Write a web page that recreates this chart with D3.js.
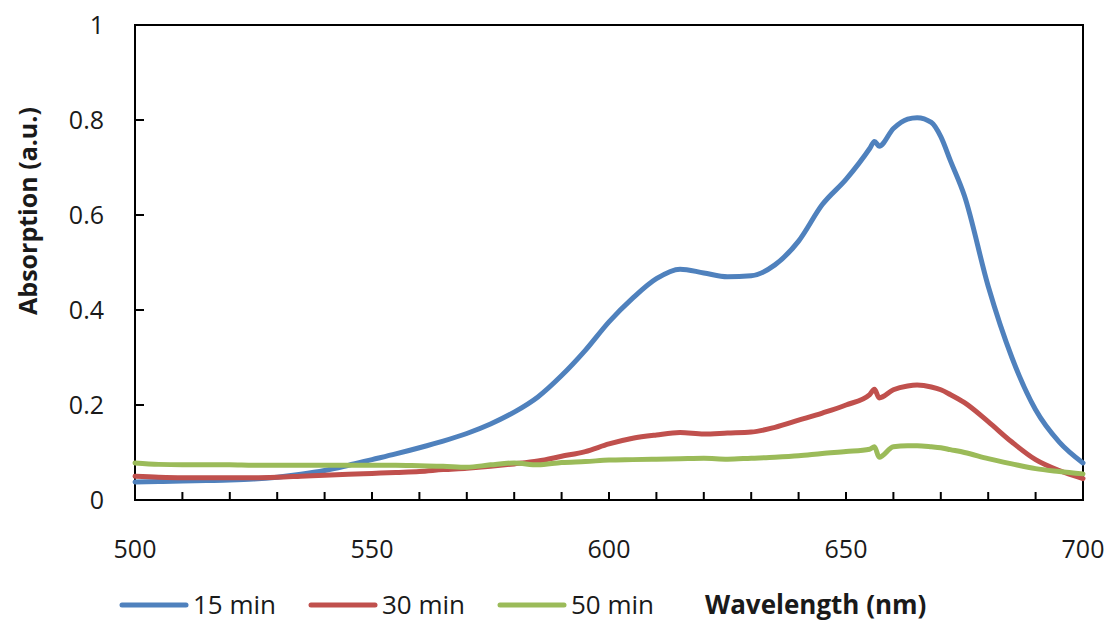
<!DOCTYPE html>
<html>
<head>
<meta charset="utf-8">
<script src="https://cdn.jsdelivr.net/npm/d3@7"></script>
<style>
  html, body { margin: 0; padding: 0; background: #fff; }
  svg { display: block; }
  text { font-family: "Open Sans", sans-serif; fill: #1a1a1a; }
</style>
</head>
<body>
<svg id="chart" width="1111" height="623"></svg>
<script>
const wavelengths = [500,505,510,515,520,525,530,535,540,545,550,555,560,565,570,575,580,585,590,595,600,605,610,615,620,625,630,635,640,645,650,655,656,657,660,663,665,668,670,672,675,680,685,690,695,700];

const min15 = [0.038,0.039,0.040,0.041,0.042,0.044,0.048,0.054,0.062,0.073,0.085,0.097,0.110,0.124,0.140,0.160,0.185,0.217,0.262,0.315,0.375,0.425,0.466,0.486,0.478,0.470,0.472,0.495,0.545,0.622,0.675,0.740,0.755,0.745,0.782,0.802,0.805,0.795,0.765,0.715,0.640,0.450,0.300,0.190,0.122,0.078];

const min30 = [0.050,0.048,0.047,0.047,0.047,0.047,0.048,0.050,0.052,0.054,0.056,0.058,0.060,0.064,0.067,0.071,0.076,0.082,0.092,0.102,0.118,0.130,0.137,0.142,0.139,0.141,0.143,0.153,0.168,0.183,0.200,0.222,0.233,0.215,0.232,0.240,0.242,0.238,0.232,0.222,0.205,0.165,0.122,0.085,0.062,0.045];

const min50 = [0.078,0.075,0.074,0.074,0.074,0.073,0.073,0.073,0.073,0.073,0.073,0.073,0.072,0.071,0.069,0.074,0.078,0.074,0.079,0.081,0.084,0.085,0.086,0.087,0.088,0.086,0.088,0.090,0.093,0.098,0.102,0.107,0.112,0.090,0.112,0.114,0.114,0.112,0.110,0.106,0.100,0.087,0.076,0.066,0.060,0.055];

const seriesNames = ["15 min", "30 min", "50 min"];
const seriesColors = ["#4F81BD", "#C0504D", "#9BBB59"];
const xTickLabels = [500, 550, 600, 650, 700];
const yTickLabels = [0, 0.2, 0.4, 0.6, 0.8, 1];

const svg = d3.select("#chart");
const L = 135, R = 1083, T = 25, B = 500;

const x = d3.scaleLinear().domain([500, 700]).range([L, R]);
const y = d3.scaleLinear().domain([0, 1]).range([B, T]);

// plot frame
svg.append("rect").attr("x", L).attr("y", T).attr("width", R - L).attr("height", B - T)
  .attr("fill", "none").attr("stroke", "#000").attr("stroke-width", 2);

// x minor ticks (inward)
const xMinor = d3.range(510, 700, 10);
svg.append("g").selectAll("line").data(xMinor).join("line")
  .attr("x1", d => x(d)).attr("x2", d => x(d))
  .attr("y1", B).attr("y2", B - 8)
  .attr("stroke", "#000").attr("stroke-width", 2);

// y ticks (inward)
svg.append("g").selectAll("line").data(yTickLabels.slice(1, -1)).join("line")
  .attr("x1", L).attr("x2", L + 9)
  .attr("y1", d => y(d)).attr("y2", d => y(d))
  .attr("stroke", "#000").attr("stroke-width", 2);

// tick labels
svg.append("g").selectAll("text").data(xTickLabels).join("text")
  .attr("x", d => x(d)).attr("y", 558)
  .attr("text-anchor", "middle").attr("font-size", 25)
  .text(d => d);

svg.append("g").selectAll("text").data(yTickLabels).join("text")
  .attr("x", 104).attr("y", d => y(d) + 9)
  .attr("text-anchor", "end").attr("font-size", 25)
  .text(d => d);

// y title
svg.append("text")
  .attr("transform", "translate(37,211) rotate(-90)")
  .attr("text-anchor", "middle").attr("font-size", 25).attr("font-weight", "bold")
  .text("Absorption (a.u.)");

// lines
const allSeries = [min15, min30, min50];
const line = d3.line().curve(d3.curveMonotoneX).x((d, i) => x(wavelengths[i])).y(d => y(d));
svg.append("g").selectAll("path").data(allSeries).join("path")
  .attr("d", d => line(d))
  .attr("fill", "none")
  .attr("stroke", (d, i) => seriesColors[i])
  .attr("stroke-width", 5)
  .attr("stroke-linejoin", "round")
  .attr("stroke-linecap", "round");

// legend
const legendX = [122, 311, 500];
const lg = svg.append("g").selectAll("g").data(seriesNames).join("g")
  .attr("transform", (d, i) => `translate(${legendX[i]},605)`);
lg.append("line").attr("x1", 0).attr("x2", 64).attr("y1", 0).attr("y2", 0)
  .attr("stroke", (d, i) => seriesColors[i]).attr("stroke-width", 5)
  .attr("stroke-linecap", "round");
lg.append("text").attr("x", 71).attr("y", 9).attr("font-size", 26).text(d => d);

// x title
svg.append("text")
  .attr("x", 705).attr("y", 614)
  .attr("font-size", 26).attr("font-weight", "bold")
  .text("Wavelength (nm)");
</script>
</body>
</html>
